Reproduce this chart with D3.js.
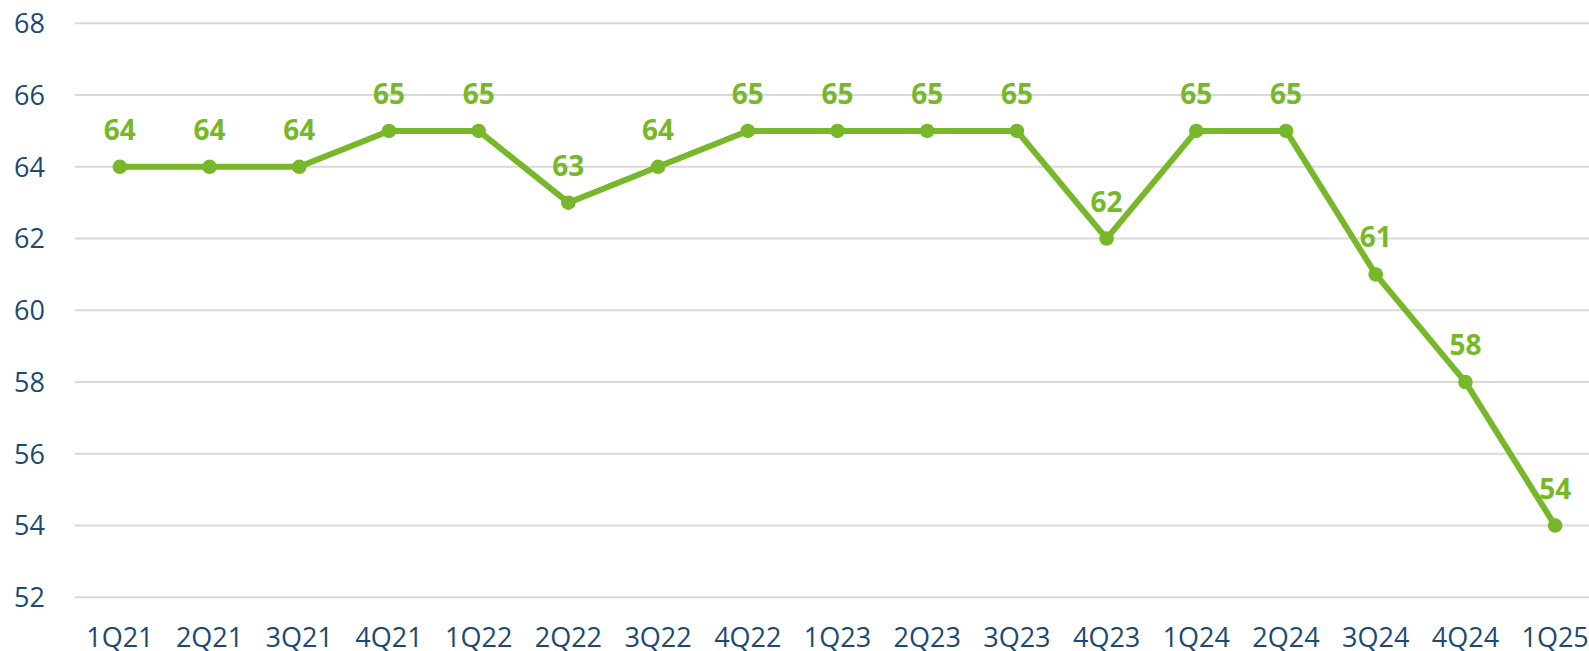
<!DOCTYPE html>
<head>
  <meta charset="utf-8" />
  <script src="https://d3js.org/d3.v7.min.js"></script>
  <style>
    html, body { margin: 0; padding: 0; background: #fff; overflow: hidden; }
    svg { display: block; }
    .tick-label { font-family: "Open Sans", sans-serif; font-size: 27px; fill: #1b4a72; }
    .val-label { font-family: "Open Sans", sans-serif; font-size: 28px; font-weight: bold; fill: #77b82a; }
  </style>
</head>
<body>
  <svg width="1589" height="651"></svg>
  <script>
    // quarters and index values
    var quarters = ["1Q21", "2Q21", "3Q21", "4Q21", "1Q22", "2Q22", "3Q22", "4Q22",
      "1Q23", "2Q23", "3Q23", "4Q23", "1Q24", "2Q24", "3Q24", "4Q24", "1Q25"];
    var values = [64, 64, 64, 65, 65, 63, 64, 65, 65, 65, 65, 62, 65, 65, 61, 58, 54];
    var yTicks = [52, 54, 56, 58, 60, 62, 64, 66, 68];

    var svg = d3.select("svg");
    var green = "#77b82a";

    var x = d3.scaleBand().domain(quarters).range([75, 1600]);
    var y = d3.scaleLinear().domain([52, 68]).range([597.3, 23.3]);

    var data = quarters.map(function (q, i) {
      return { q: q, v: values[i] };
    });

    // gridlines
    svg.append("g")
      .selectAll("line")
      .data(yTicks)
      .enter()
      .append("line")
      .attr("x1", 75)
      .attr("x2", 1600)
      .attr("y1", function (d) { return y(d); })
      .attr("y2", function (d) { return y(d); })
      .attr("stroke", "#d9d9d9")
      .attr("stroke-width", 2);

    // y labels
    svg.append("g")
      .selectAll("text")
      .data(yTicks)
      .enter()
      .append("text")
      .attr("class", "tick-label")
      .attr("x", 45)
      .attr("y", function (d) { return y(d); })
      .attr("dy", "0.36em")
      .attr("text-anchor", "end")
      .text(function (d) { return d; });

    // x labels
    svg.append("g")
      .selectAll("text")
      .data(quarters)
      .enter()
      .append("text")
      .attr("class", "tick-label")
      .attr("x", function (d) { return x(d) + x.bandwidth() / 2; })
      .attr("y", 647)
      .attr("text-anchor", "middle")
      .text(function (d) { return d; });

    var cx = function (d) { return x(d.q) + x.bandwidth() / 2; };

    var line = d3.line()
      .x(cx)
      .y(function (d) { return y(d.v); });

    svg.append("path")
      .datum(data)
      .attr("d", line)
      .attr("fill", "none")
      .attr("stroke", green)
      .attr("stroke-width", 6)
      .attr("stroke-linejoin", "round");

    svg.append("g")
      .selectAll("circle")
      .data(data)
      .enter()
      .append("circle")
      .attr("cx", cx)
      .attr("cy", function (d) { return y(d.v); })
      .attr("r", 7.3)
      .attr("fill", green);

    svg.append("g")
      .selectAll("text")
      .data(data)
      .enter()
      .append("text")
      .attr("class", "val-label")
      .attr("x", cx)
      .attr("y", function (d) { return y(d.v) - 27; })
      .attr("text-anchor", "middle")
      .text(function (d) { return d.v; });
  </script>
</body>
